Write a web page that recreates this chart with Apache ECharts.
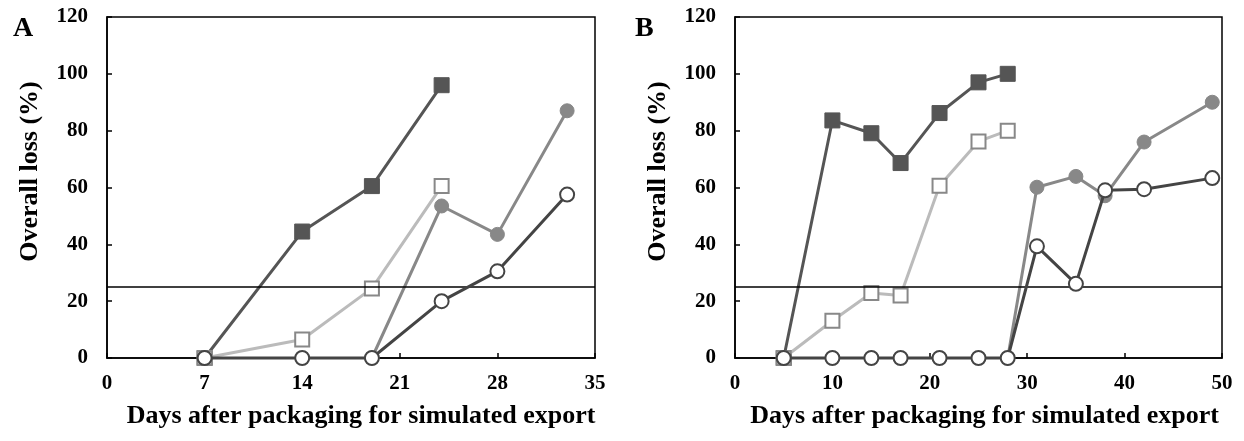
<!DOCTYPE html>
<html>
<head>
<meta charset="utf-8">
<script src="https://cdn.jsdelivr.net/npm/echarts@6/dist/echarts.min.js"></script>
<style>
html,body{margin:0;padding:0;background:#fff;}
#c{width:1244px;height:441px;}
</style>
</head>
<body>
<div id="c"></div>
<script>
// Panel A data
const aDarkSqX = [7, 14, 19, 24];
const aDarkSqY = [0, 44.5, 60.5, 96];
const aOpenSqX = [7, 14, 19, 24];
const aOpenSqY = [0, 6.5, 24.5, 60.5];
const aGrayCircX = [19, 24, 28, 33];
const aGrayCircY = [0, 53.5, 43.5, 87];
const aOpenCircX = [7, 14, 19, 24, 28, 33];
const aOpenCircY = [0, 0, 0, 20, 30.5, 57.5];

// Panel B data
const bDarkSqX = [5, 10, 14, 17, 21, 25, 28];
const bDarkSqY = [0, 83.6, 79.1, 68.6, 86.2, 97, 100];
const bOpenSqX = [5, 10, 14, 17, 21, 25, 28];
const bOpenSqY = [0, 13.1, 22.9, 22.0, 60.6, 76.2, 80];
const bGrayCircX = [28, 31, 35, 38, 42, 49];
const bGrayCircY = [0, 60.1, 63.9, 57.1, 76, 90];
const bOpenCircX = [5, 10, 14, 17, 21, 25, 28, 31, 35, 38, 42, 49];
const bOpenCircY = [0, 0, 0, 0, 0, 0, 0, 39.3, 26.1, 59, 59.4, 63.3];

const threshold = 25;
const panelLabels = ['A', 'B'];
const yAxisName = 'Overall loss (%)';
const xAxisName = 'Days after packaging for simulated export';
const yTicks = {min: 0, max: 120, interval: 20};
const xTicksA = {min: 0, max: 35, interval: 7};
const xTicksB = {min: 0, max: 50, interval: 10};

const FONT = '"Liberation Serif", "Times New Roman", serif';

function pairs(xs, ys) { return xs.map((x, i) => [x, ys[i]]); }

function makeSeries(idx, dSqX, dSqY, oSqX, oSqY, gCX, gCY, oCX, oCY) {
  const base = {type: 'line', xAxisIndex: idx, yAxisIndex: idx, clip: false, animation: false, showAllSymbol: true};
  return [
    Object.assign({}, base, {
      data: pairs(dSqX, dSqY), symbol: 'rect', symbolSize: 15,
      lineStyle: {color: '#555555', width: 3},
      itemStyle: {color: '#555555', borderColor: '#555555', borderWidth: 1},
      z: 2,
      markLine: {
        silent: true, symbol: ['none', 'none'], label: {show: false},
        lineStyle: {color: '#000', width: 1.5, type: 'solid'},
        data: [{yAxis: threshold}], animation: false
      }
    }),
    Object.assign({}, base, {
      data: pairs(oSqX, oSqY), symbol: 'rect', symbolSize: 14,
      lineStyle: {color: '#bbbbbb', width: 3},
      itemStyle: {color: '#ffffff', borderColor: '#888888', borderWidth: 2},
      z: 3
    }),
    Object.assign({}, base, {
      data: pairs(gCX, gCY), symbol: 'circle', symbolSize: 14,
      lineStyle: {color: '#888888', width: 3},
      itemStyle: {color: '#888888', borderColor: '#888888', borderWidth: 1},
      z: 4
    }),
    Object.assign({}, base, {
      data: pairs(oCX, oCY), symbol: 'circle', symbolSize: 14,
      lineStyle: {color: '#444444', width: 3},
      itemStyle: {color: '#ffffff', borderColor: '#444444', borderWidth: 2},
      z: 5
    })
  ];
}

function xAxis(idx, t, shift) {
  return {
    type: 'value', gridIndex: idx, min: t.min, max: t.max, interval: t.interval,
    name: xAxisName, nameLocation: 'middle', nameGap: 45,
    nameTextStyle: {fontFamily: FONT, fontWeight: 'bold', fontSize: 26, color: '#000', padding: [0, 0, 0, shift]},
    axisLine: {show: true, onZero: false, lineStyle: {color: '#000', width: 1.5}},
    axisTick: {show: true, inside: true, length: 5, lineStyle: {color: '#000', width: 1.5}},
    axisLabel: {fontFamily: FONT, fontWeight: 'bold', fontSize: 21, color: '#000', margin: 15},
    splitLine: {show: false}
  };
}
function yAxis(idx) {
  return {
    type: 'value', gridIndex: idx, min: yTicks.min, max: yTicks.max, interval: yTicks.interval,
    name: yAxisName, nameLocation: 'middle', nameGap: 64, nameRotate: 90,
    nameTextStyle: {fontFamily: FONT, fontWeight: 'bold', fontSize: 26, color: '#000', padding: [0, 0, 0, 32]},
    axisLine: {show: true, lineStyle: {color: '#000', width: 1.5}},
    axisTick: {show: true, inside: true, length: 5, lineStyle: {color: '#000', width: 1.5}},
    axisLabel: {fontFamily: FONT, fontWeight: 'bold', fontSize: 21, color: '#000', margin: 19},
    splitLine: {show: false}
  };
}

const chart = echarts.init(document.getElementById('c'), null, {renderer: 'canvas'});
chart.setOption({
  backgroundColor: '#fff',
  animation: false,
  title: [
    {text: panelLabels[0], left: 8, top: 10, textStyle: {fontFamily: FONT, fontWeight: 'bold', fontSize: 28, color: '#000'}},
    {text: panelLabels[1], left: 630, top: 10, textStyle: {fontFamily: FONT, fontWeight: 'bold', fontSize: 28, color: '#000'}}
  ],
  grid: [
    {left: 107, top: 17, width: 488, height: 341, show: true, borderColor: '#000', borderWidth: 1.5, backgroundColor: 'transparent'},
    {left: 735, top: 17, width: 487, height: 341, show: true, borderColor: '#000', borderWidth: 1.5, backgroundColor: 'transparent'}
  ],
  xAxis: [xAxis(0, xTicksA, 20), xAxis(1, xTicksB, 12)],
  yAxis: [yAxis(0), yAxis(1)],
  series: [].concat(
    makeSeries(0, aDarkSqX, aDarkSqY, aOpenSqX, aOpenSqY, aGrayCircX, aGrayCircY, aOpenCircX, aOpenCircY),
    makeSeries(1, bDarkSqX, bDarkSqY, bOpenSqX, bOpenSqY, bGrayCircX, bGrayCircY, bOpenCircX, bOpenCircY)
  )
});
</script>
</body>
</html>
